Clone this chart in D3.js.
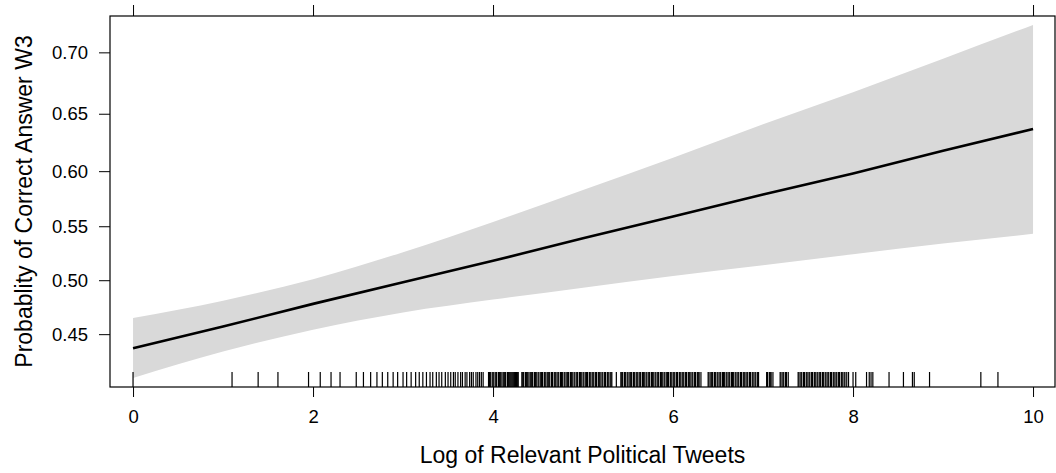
<!DOCTYPE html>
<html>
<head>
<meta charset="utf-8">
<script src="https://cdn.jsdelivr.net/npm/d3@7"></script>
<style>
  body { margin: 0; background: #ffffff; }
  svg { display: block; font-family: "Liberation Sans", Arial, Helvetica, sans-serif; }
  .axis path.domain { display: none; }
  .axis line { stroke: #000000; }
  .axis text { fill: #000000; }
</style>
</head>
<body>
<svg id="chart" width="1056" height="473"></svg>
<script>
// tick labels
var xTicks = [0, 2, 4, 6, 8, 10];
var yTicks = [0.45, 0.50, 0.55, 0.60, 0.65, 0.70];

// fitted effect and its confidence band (probabilities)
var fitX   = [0, 1, 2, 3, 4, 5, 6, 7, 8, 9, 10];
var fitP   = [0.437, 0.457, 0.478, 0.498, 0.518, 0.539, 0.559, 0.579, 0.598, 0.618, 0.637];
var upperP = [0.465, 0.481, 0.501, 0.526, 0.554, 0.583, 0.612, 0.641, 0.668, 0.695, 0.721];
var lowerP = [0.410, 0.434, 0.454, 0.470, 0.482, 0.493, 0.504, 0.514, 0.524, 0.534, 0.543];

// rug of observed log tweet counts
var rugX = [0, 1.10, 1.39, 1.61, 1.95, 2.08, 2.20, 2.30, 2.48, 2.56, 2.64, 2.71, 2.77, 2.83, 2.89, 2.94,
    3.00, 3.04, 3.09, 3.14, 3.18, 3.22, 3.26, 3.30, 3.33, 3.37, 3.40, 3.43, 3.47, 3.50, 3.53, 3.56, 3.58,
    3.61, 3.64, 3.66, 3.69, 3.71, 3.74, 3.76, 3.78, 3.81, 3.83, 3.85, 3.87, 3.89,
    3.95, 3.96, 3.97, 3.99, 4.00, 4.01, 4.03, 4.04, 4.06, 4.07, 4.08, 4.09, 4.11, 4.12, 4.13, 4.14, 4.16,
    4.17, 4.18, 4.19, 4.20, 4.21, 4.22, 4.23, 4.24, 4.25, 4.26, 4.27, 4.28,
    4.32, 4.33, 4.34, 4.36, 4.37, 4.38, 4.39, 4.41, 4.42, 4.43, 4.44, 4.46, 4.47, 4.48, 4.50, 4.51, 4.53,
    4.54, 4.55, 4.57, 4.58, 4.60, 4.61, 4.62, 4.63, 4.65, 4.66, 4.68, 4.69, 4.70, 4.72, 4.73, 4.75, 4.76,
    4.77, 4.79, 4.80, 4.82, 4.83, 4.84, 4.86, 4.87, 4.88, 4.90, 4.91, 4.93, 4.94, 4.96, 4.97, 4.98, 5.00,
    5.01, 5.03, 5.04, 5.05, 5.07, 5.08, 5.10, 5.11, 5.12, 5.14, 5.15, 5.17, 5.18, 5.19, 5.21, 5.22, 5.24,
    5.25, 5.27, 5.28, 5.30, 5.31, 5.32, 5.37,
    5.42, 5.43, 5.44, 5.46, 5.47, 5.49, 5.50, 5.52, 5.53, 5.54, 5.56, 5.57, 5.59, 5.60, 5.61, 5.63, 5.64,
    5.66, 5.67, 5.68, 5.70, 5.71, 5.73, 5.74, 5.76, 5.77, 5.78, 5.80, 5.81, 5.83, 5.84, 5.86, 5.87, 5.88,
    5.90, 5.91, 5.93, 5.94, 5.95, 5.97, 5.98, 6.00, 6.01, 6.02, 6.04, 6.05, 6.07, 6.08, 6.10, 6.11, 6.12,
    6.14, 6.15, 6.17, 6.18, 6.19, 6.21, 6.22, 6.24, 6.25, 6.27, 6.28, 6.29, 6.31,
    6.39, 6.40, 6.42, 6.43, 6.44, 6.46, 6.47, 6.49, 6.50, 6.52, 6.53, 6.55, 6.56, 6.57, 6.59, 6.60, 6.62,
    6.63, 6.65, 6.66, 6.67, 6.69, 6.70, 6.72, 6.73, 6.75, 6.76, 6.78, 6.79, 6.80, 6.82, 6.83, 6.85, 6.86,
    6.88, 6.89, 6.91, 6.92, 6.94, 6.95,
    7.04, 7.05, 7.07, 7.08, 7.09, 7.11, 7.19, 7.20, 7.22, 7.23, 7.25, 7.26, 7.28,
    7.39, 7.40, 7.42, 7.43, 7.45, 7.46, 7.48, 7.49, 7.51, 7.52, 7.54, 7.55, 7.57, 7.58, 7.60, 7.61, 7.63,
    7.64, 7.66, 7.67, 7.69, 7.70, 7.72, 7.73, 7.75, 7.76, 7.78, 7.79, 7.81, 7.82, 7.84, 7.85, 7.87, 7.88,
    7.90, 7.91, 7.93, 7.95,
    8.00, 8.03, 8.15, 8.18, 8.20, 8.22, 8.40, 8.56, 8.66, 8.68, 8.85, 9.42, 9.61];

(function() {
    var svg = d3.select('#chart');
    var left = 110, right = 1055, top = 16, bottom = 387;

    function logit(p) { return Math.log(p / (1 - p)); }
    function invlogit(v) { return 1 / (1 + Math.exp(-v)); }

    var x = d3.scaleLinear().domain([-0.256, 10.244]).range([left, right]);
    // effects plots put probabilities on the logit scale
    var yLin = d3.scaleLinear().domain([logit(0.402), logit(0.7276)]).range([bottom, top]);
    var y = function(p) { return yLin(logit(p)); };

    var band = fitX.map(function(d, i) { return {x: d, lo: lowerP[i], hi: upperP[i], fit: fitP[i]}; });

    svg.append('path')
        .datum(band)
        .attr('fill', '#d9d9d9')
        .attr('stroke', 'none')
        .attr('d', d3.area()
            .x(function(d) { return x(d.x); })
            .y0(function(d) { return y(d.lo); })
            .y1(function(d) { return y(d.hi); })
            .curve(d3.curveMonotoneX));

    svg.append('path')
        .datum(band)
        .attr('fill', 'none')
        .attr('stroke', '#000000')
        .attr('stroke-width', 2.6)
        .attr('d', d3.line()
            .x(function(d) { return x(d.x); })
            .y(function(d) { return y(d.fit); }));

    svg.append('g')
        .attr('class', 'rug')
        .selectAll('line')
        .data(rugX)
        .enter().append('line')
        .attr('x1', function(d) { return x(d); })
        .attr('x2', function(d) { return x(d); })
        .attr('y1', bottom - 15)
        .attr('y2', bottom)
        .attr('stroke', '#000000')
        .attr('stroke-width', 1.2);

    svg.append('g')
        .attr('class', 'axis')
        .attr('transform', 'translate(0,' + bottom + ')')
        .style('font-size', '18.5px')
        .call(d3.axisBottom(x).tickValues(xTicks).tickSize(10).tickPadding(13).tickSizeOuter(0));

    svg.append('g')
        .attr('class', 'axis')
        .attr('transform', 'translate(0,' + top + ')')
        .call(d3.axisTop(x).tickValues(xTicks).tickSize(11).tickFormat('').tickSizeOuter(0));

    svg.append('g')
        .attr('class', 'axis')
        .attr('transform', 'translate(' + left + ',0)')
        .style('font-size', '18.5px')
        .call(d3.axisLeft(yLin)
            .tickValues(yTicks.map(logit))
            .tickFormat(function(d) { return d3.format('.2f')(invlogit(d)); })
            .tickSize(11).tickPadding(11).tickSizeOuter(0));

    svg.selectAll('.axis text').attr('font-family', null);

    svg.append('rect')
        .attr('x', left)
        .attr('y', top)
        .attr('width', right - left)
        .attr('height', bottom - top)
        .attr('fill', 'none')
        .attr('stroke', '#000000')
        .attr('stroke-width', 1.2);

    svg.append('text')
        .attr('x', (left + right) / 2)
        .attr('y', 463)
        .attr('text-anchor', 'middle')
        .style('font-size', '23px')
        .text('Log of Relevant Political Tweets');

    svg.append('text')
        .attr('transform', 'translate(32,' + (top + bottom) / 2 + ') rotate(-90)')
        .attr('text-anchor', 'middle')
        .style('font-size', '23px')
        .text('Probablity of Correct Answer W3');
})();
</script>
</body>
</html>
